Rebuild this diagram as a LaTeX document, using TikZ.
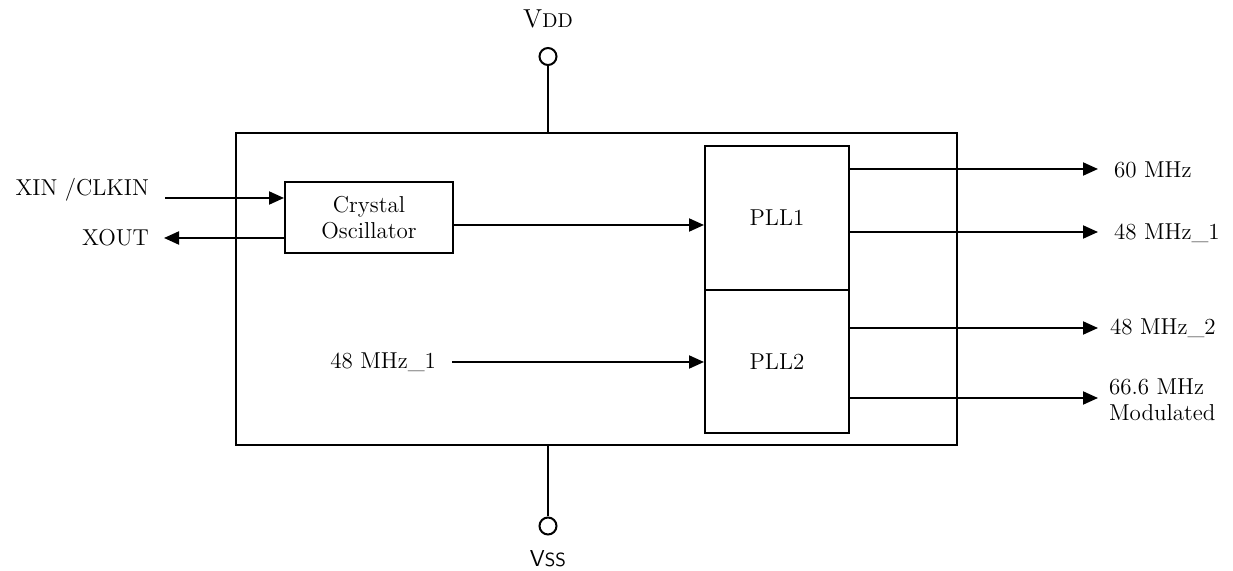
\documentclass[tikz,border=0pt]{standalone}
\usetikzlibrary{arrows.meta,positioning}

\begin{document}
\begin{tikzpicture}[x=0.5pt, y=-0.5pt, line width=1pt,
    font=\fontsize{11.5}{13}\selectfont,
    >={Triangle[length=7.5pt,width=6.5pt]},
    block/.style={draw, inner sep=0pt, align=center},
    pin/.style={draw, circle, minimum size=8.5pt, inner sep=0pt, fill=white},
    lbl/.style={inner sep=0pt, align=left}]
    \useasboundingbox (0,0) rectangle (1233,571);
    % chip and inner blocks
    \node (chip) [block, minimum width=360.5pt, minimum height=156pt] at (596.5,289) {};
    \node (xtal) [block, minimum width=84pt, minimum height=35.5pt] at (369,217.5) {Crystal\\Oscillator};
    \node (pll1) [block, minimum width=72pt, minimum height=72pt] at (777,218) {PLL1};
    \node (pll2) [block, minimum width=72pt, minimum height=71.5pt] at (777,361.5) {PLL2};
    % supply pins
    \node (vdd) [pin] at (548,56.5) {};
    \node (vss) [pin] at (548,526) {};
    \node (vddlbl) [lbl] at (548,19) {{\fontsize{13}{14}\selectfont V}{\fontsize{10}{11}\selectfont DD}};
    \node (vsslbl) [lbl] at (548,559) {\sffamily V{\fontsize{9.5}{10}\selectfont SS}};
    \draw (vdd) -- (vdd |- chip.north);
    \draw (vss) -- (vss |- chip.south);
    % crystal pins
    \node (xin) [lbl, anchor=east] at (150,190) {XIN /CLKIN};
    \node (xout) [lbl, anchor=east] at (150,238) {XOUT};
    \coordinate (xinend) at (165,198);
    \coordinate (xoutend) at (164,238);
    \draw[->] (xinend) -- (xinend -| xtal.west);
    \draw[->] (xoutend -| xtal.west) -- (xoutend);
    % internal paths
    \coordinate (ref) at (453,225);
    \draw[->] (ref) -- (ref -| pll1.west);
    \node (inlbl) [lbl, anchor=east] at (437,362) {48 MHz\_1};
    \coordinate (inend) at (452,362);
    \draw[->] (inend) -- (inend -| pll2.west);
    % outputs
    \coordinate (o1) at (1098,169);
    \coordinate (o2) at (1098,232);
    \coordinate (o3) at (1098,328);
    \coordinate (o4) at (1098,398);
    \draw[->] (o1 -| pll1.east) -- (o1);
    \draw[->] (o2 -| pll1.east) -- (o2);
    \draw[->] (o3 -| pll2.east) -- (o3);
    \draw[->] (o4 -| pll2.east) -- (o4);
    \node (out1) [lbl, anchor=west] at (1113,170) {60 MHz};
    \node (out2) [lbl, anchor=west] at (1113,233) {48 MHz\_1};
    \node (out3) [lbl, anchor=west] at (1109,328) {48 MHz\_2};
    \node (out4) [lbl, anchor=west] at (1108,400) {66.6 MHz\\Modulated};
\end{tikzpicture}
\end{document}
